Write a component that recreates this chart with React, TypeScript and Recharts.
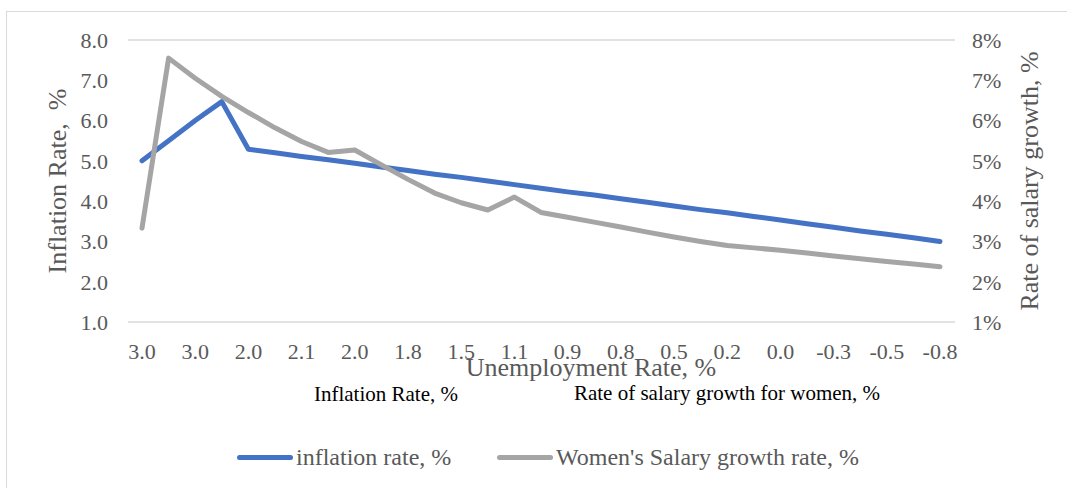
import React from 'react';
import { LineChart, Line, XAxis, YAxis, CartesianGrid } from 'recharts';

const categories = ['3.0', '3.3', '3.0', '2.6', '2.0', '2.0', '2.1', '2.1', '2.0', '1.9', '1.8', '1.6', '1.5', '1.3', '1.1', '1.0', '0.9', '0.8', '0.8', '0.6', '0.5', '0.3', '0.2', '0.1', '0.0', '-0.2', '-0.3', '-0.4', '-0.5', '-0.7', '-0.8'];
const inflation = [5.0, 5.5, 6.0, 6.47, 5.29, 5.2, 5.11, 5.03, 4.94, 4.85, 4.76, 4.67, 4.59, 4.5, 4.41, 4.32, 4.23, 4.15, 4.06, 3.97, 3.88, 3.79, 3.71, 3.62, 3.53, 3.44, 3.35, 3.26, 3.18, 3.09, 3.0];
const womenSalary = [3.33, 7.55, 7.05, 6.6, 6.2, 5.82, 5.48, 5.21, 5.27, 4.9, 4.54, 4.2, 3.96, 3.78, 4.1, 3.72, 3.6, 3.48, 3.36, 3.23, 3.11, 3.0, 2.9, 2.84, 2.78, 2.71, 2.64, 2.57, 2.5, 2.44, 2.37];
const leftTicks = [1, 2, 3, 4, 5, 6, 7, 8];
const rightTicks = [1, 2, 3, 4, 5, 6, 7, 8];

const seriesNames = ['inflation rate, %', "Women's Salary growth rate, %"];
const seriesColors = ['#4472C4', '#A5A5A5'];
const leftTitle = 'Inflation Rate,  %';
const rightTitle = 'Rate of salary growth, %';
const xTitle = 'Unemployment Rate, %';
const subTitles = ['Inflation Rate, %', 'Rate of salary growth for women, %'];

const data = categories.map((c, i) => ({ cat: c, inflation: inflation[i], women: womenSalary[i] }));

const FONT = '"Liberation Serif", "Times New Roman", serif';
const GRAY = '#595959';

export default function App() {
  return (
    <div style={{ position: 'absolute', left: 0, top: 0, width: 1067, height: 488, background: '#fff', overflow: 'hidden', fontFamily: FONT }}>
      <div style={{ position: 'absolute', left: 6, top: 11, width: 1100, height: 500, borderLeft: '1px solid #d9d9d9', borderTop: '1px solid #d9d9d9' }} />
      <div style={{ position: 'absolute', left: 0, top: 0 }}>
        <LineChart width={1067} height={488} data={data} margin={{ top: 40, right: 52, bottom: 126, left: 68 }}>
          <CartesianGrid vertical={false} stroke="#d9d9d9" strokeWidth={1.5} />
          <XAxis
            dataKey="cat"
            interval={1}
            height={40}
            padding={{ left: 14, right: 15 }}
            axisLine={false}
            tickLine={false}
            tickSize={0}
            tickMargin={21}
            tick={{ fill: GRAY, fontSize: 22, fontFamily: FONT }}
            label={{
              content: () => (
                <g>
                  <text x={591} y={376} textAnchor="middle" fill={GRAY} fontSize={26} fontFamily={FONT}>{xTitle}</text>
                  <text x={386} y={401} textAnchor="middle" fill="#000" fontSize={21} fontFamily={FONT}>{subTitles[0]}</text>
                  <text x={727} y={400} textAnchor="middle" fill="#000" fontSize={21} fontFamily={FONT}>{subTitles[1]}</text>
                </g>
              ),
            }}
          />
          <YAxis
            yAxisId="left"
            width={60}
            domain={[1, 8]}
            ticks={leftTicks}
            interval={0}
            axisLine={false}
            tickLine={false}
            tickSize={0}
            tickMargin={20}
            tickFormatter={(v: number) => v.toFixed(1)}
            tick={{ fill: GRAY, fontSize: 22, fontFamily: FONT }}
            label={{
              content: () => (
                <text x={66} y={181} transform="rotate(-90 66 181)" textAnchor="middle" fill={GRAY} fontSize={26} fontFamily={FONT} style={{ whiteSpace: 'pre' }}>{leftTitle}</text>
              ),
            }}
          />
          <YAxis
            yAxisId="right"
            orientation="right"
            width={60}
            domain={[1, 8]}
            ticks={rightTicks}
            interval={0}
            axisLine={false}
            tickLine={false}
            tickSize={0}
            tickMargin={17}
            tickFormatter={(v: number) => `${v}%`}
            tick={{ fill: GRAY, fontSize: 22, fontFamily: FONT }}
            label={{
              content: () => (
                <text x={1038} y={181} transform="rotate(-90 1038 181)" textAnchor="middle" fill={GRAY} fontSize={26} fontFamily={FONT}>{rightTitle}</text>
              ),
            }}
          />
          <Line yAxisId="left" type="linear" dataKey="inflation" name={seriesNames[0]} stroke={seriesColors[0]} strokeWidth={5} dot={false} strokeLinecap="round" strokeLinejoin="round" isAnimationActive={false} />
          <Line yAxisId="right" type="linear" dataKey="women" name={seriesNames[1]} stroke={seriesColors[1]} strokeWidth={5} dot={false} strokeLinecap="round" strokeLinejoin="round" isAnimationActive={false} />
        </LineChart>
      </div>
      {[0, 1].map((i) => (
        <div key={i} style={{ position: 'absolute', left: i === 0 ? 237 : 497, top: 443, height: 28, display: 'flex', alignItems: 'center' }}>
          <div style={{ width: 56, height: 5, borderRadius: 3, background: seriesColors[i] }} />
          <span style={{ marginLeft: 3, fontSize: 24, color: GRAY, fontFamily: FONT, whiteSpace: 'nowrap' }}>{seriesNames[i]}</span>
        </div>
      ))}
    </div>
  );
}
